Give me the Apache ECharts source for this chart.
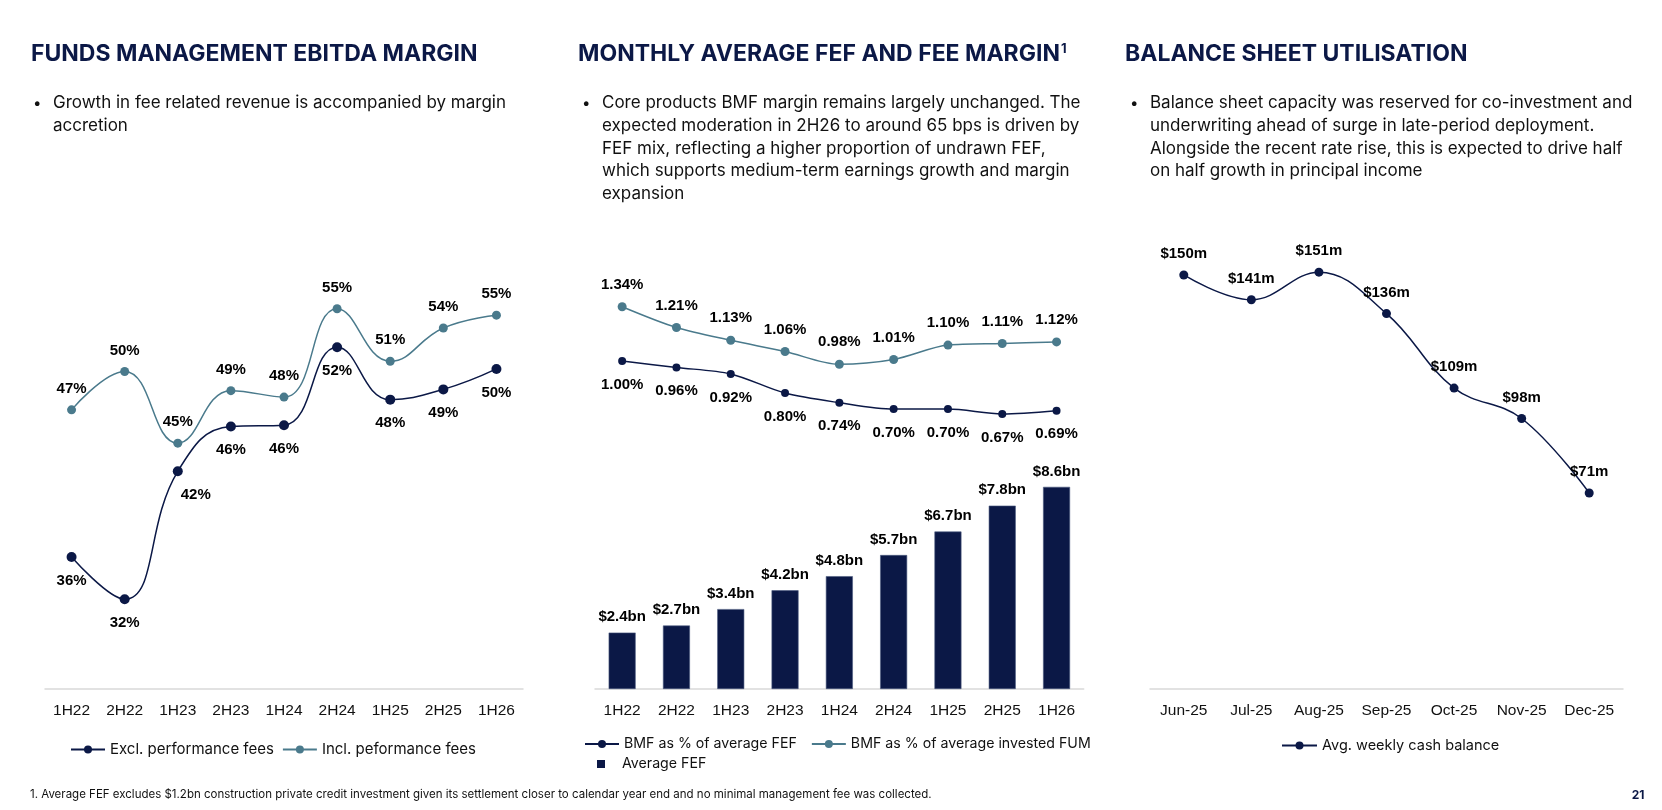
<!DOCTYPE html>
<html>
<head>
<meta charset="utf-8">
<script src="https://cdn.jsdelivr.net/npm/echarts@6/dist/echarts.min.js"></script>
<style>
  html, body { margin: 0; padding: 0; background: #fff; }
  #chart { width: 1662px; height: 810px; }
</style>
</head>
<body>
<div id="chart"></div>
<script>
// chart 1 - funds management EBITDA margin (%)
const halves = ['1H22', '2H22', '1H23', '2H23', '1H24', '2H24', '1H25', '2H25', '1H26']
const exclPerfFees = [35.7, 32.4, 42.4, 45.9, 46.0, 52.1, 48.0, 48.8, 50.4]
const inclPerfFees = [47.2, 50.2, 44.6, 48.7, 48.2, 55.1, 51.0, 53.6, 54.6]

// chart 2 - monthly average FEF ($bn) and fee margin (%)
const bmfFefMargin = [1.00, 0.96, 0.92, 0.80, 0.74, 0.70, 0.70, 0.67, 0.69]
const bmfFumMargin = [1.34, 1.21, 1.13, 1.06, 0.98, 1.01, 1.10, 1.11, 1.12]
const averageFef = [2.4, 2.7, 3.4, 4.2, 4.8, 5.7, 6.7, 7.8, 8.6]

// chart 3 - avg weekly cash balance ($m)
const months = ['Jun-25', 'Jul-25', 'Aug-25', 'Sep-25', 'Oct-25', 'Nov-25', 'Dec-25']
const cashBalance = [150, 141, 151, 136, 109, 98, 71]

const NAVY = '#0b1846'
const TEAL = '#4a7a8c'
const AXIS = '#d9d9d9'
const NUM_FONT = '"Liberation Sans", Arial, sans-serif'
const TEXT_FONT = 'Inter, Lato, sans-serif'

const chart = echarts.init(document.getElementById('chart'))

const dataLabel = (position, distance, formatter) => ({
  show: true,
  position,
  distance,
  formatter,
  color: '#000',
  fontFamily: NUM_FONT,
  fontWeight: 'bold',
  fontSize: 15
})

const catAxis = (gridIndex, data) => ({
  type: 'category',
  gridIndex,
  data,
  boundaryGap: true,
  axisLine: { lineStyle: { color: AXIS, width: 1.5 } },
  axisTick: { show: false },
  axisLabel: { interval: 0, margin: 14, color: '#111', fontFamily: NUM_FONT, fontSize: 15.5 }
})

const pct0 = p => Math.round(p.value) + '%'
const pct2 = p => p.value.toFixed(2) + '%'

const heading = (x, text) => ({
  type: 'text',
  x,
  y: 54,
  style: {
    text,
    rich: {
      t: { fill: NAVY, fontFamily: TEXT_FONT, fontWeight: 'bold', fontSize: 23 },
      s: { fill: NAVY, fontFamily: TEXT_FONT, fontWeight: 'bold', fontSize: 13, verticalAlign: 'top', padding: [0, 0, 10, 1] }
    },
    verticalAlign: 'middle'
  }
})

const bullet = (x, text) => [
  { type: 'text', x, y: 103, style: { text: '•', fill: '#111', font: '15px ' + TEXT_FONT, verticalAlign: 'middle' } },
  { type: 'text', x: x + 20, y: 91.5, style: { text, fill: '#111', font: '17px ' + TEXT_FONT, lineHeight: 22.8 } }
]

const legendText = size => ({ fontFamily: TEXT_FONT, fontSize: size, color: '#111' })

chart.setOption({
  animation: false,
  backgroundColor: '#fff',
  grid: [
    { left: 45, top: 249, width: 478, height: 440, outerBoundsMode: 'none' },
    { left: 595, top: 249, width: 488.7, height: 440, outerBoundsMode: 'none' },
    { left: 1150, top: 249, width: 473, height: 440, outerBoundsMode: 'none' }
  ],
  xAxis: [catAxis(0, halves), catAxis(1, halves), catAxis(2, months)],
  yAxis: [
    { type: 'value', gridIndex: 0, min: 25.39, max: 59.77, show: false },
    { type: 'value', gridIndex: 1, min: 0, max: 18.72, show: false },
    { type: 'value', gridIndex: 1, min: -1.0494, max: 1.7006, show: false },
    { type: 'value', gridIndex: 2, min: 0, max: 159.4, show: false }
  ],
  legend: [
    {
      data: ['Excl. performance fees', 'Incl. peformance fees'],
      left: 70, top: 742, padding: 0, itemWidth: 34, itemHeight: 10, itemGap: 8,
      textStyle: legendText(15)
    },
    {
      data: ['BMF as % of average FEF', 'BMF as % of average invested FUM'],
      left: 584, top: 737, padding: 0, itemWidth: 34, itemHeight: 10, itemGap: 14,
      textStyle: legendText(14.2)
    },
    {
      data: [{ name: 'Average FEF', icon: 'rect' }],
      left: 597, top: 757, padding: 0, itemWidth: 8, itemHeight: 8,
      itemStyle: { borderWidth: 0 },
      textStyle: Object.assign({ padding: [0, 0, 0, 12] }, legendText(14.2))
    },
    {
      data: ['Avg. weekly cash balance'],
      left: 1281, top: 738, padding: 0, itemWidth: 35, itemHeight: 10,
      textStyle: legendText(14.5)
    }
  ],
  series: [
    {
      name: 'Incl. peformance fees',
      type: 'line',
      xAxisIndex: 0, yAxisIndex: 0,
      data: inclPerfFees,
      smooth: 0.45,
      symbol: 'circle', symbolSize: 9,
      itemStyle: { color: TEAL },
      lineStyle: { color: TEAL, width: 1.5 },
      label: dataLabel('top', 9, pct0)
    },
    {
      name: 'Excl. performance fees',
      type: 'line',
      xAxisIndex: 0, yAxisIndex: 0,
      data: exclPerfFees.map((v, i) => i === 2 ? { value: v, label: { offset: [18, 0] } } : v),
      smooth: 0.45,
      symbol: 'circle', symbolSize: 10,
      itemStyle: { color: NAVY },
      lineStyle: { color: NAVY, width: 1.5 },
      label: dataLabel('bottom', 11, pct0)
    },
    {
      name: 'Average FEF',
      type: 'bar',
      xAxisIndex: 1, yAxisIndex: 1,
      data: averageFef,
      barWidth: 27,
      itemStyle: { color: NAVY, borderColor: '#4c5a80', borderWidth: 0.6 },
      label: dataLabel('top', 8, p => '$' + p.value.toFixed(1) + 'bn')
    },
    {
      name: 'BMF as % of average invested FUM',
      type: 'line',
      xAxisIndex: 1, yAxisIndex: 2,
      data: bmfFumMargin,
      smooth: 0.3,
      symbol: 'circle', symbolSize: 9,
      itemStyle: { color: TEAL },
      lineStyle: { color: TEAL, width: 1.5 },
      label: dataLabel('top', 10, pct2)
    },
    {
      name: 'BMF as % of average FEF',
      type: 'line',
      xAxisIndex: 1, yAxisIndex: 2,
      data: bmfFefMargin,
      smooth: 0.3,
      symbol: 'circle', symbolSize: 8,
      itemStyle: { color: NAVY },
      lineStyle: { color: NAVY, width: 1.5 },
      label: dataLabel('bottom', 12, pct2)
    },
    {
      name: 'Avg. weekly cash balance',
      type: 'line',
      xAxisIndex: 2, yAxisIndex: 3,
      data: cashBalance,
      smooth: 0.4,
      symbol: 'circle', symbolSize: 9,
      itemStyle: { color: NAVY },
      lineStyle: { color: NAVY, width: 1.5 },
      label: dataLabel('top', 9, p => '$' + p.value + 'm')
    }
  ],
  graphic: [
    heading(31, '{t|FUNDS MANAGEMENT EBITDA MARGIN}'),
    heading(578, '{t|MONTHLY AVERAGE FEF AND FEE MARGIN}{s|1}'),
    heading(1125, '{t|BALANCE SHEET UTILISATION}'),
    ...bullet(33, 'Growth in fee related revenue is accompanied by margin\naccretion'),
    ...bullet(582, 'Core products BMF margin remains largely unchanged. The\nexpected moderation in 2H26 to around 65 bps is driven by\nFEF mix, reflecting a higher proportion of undrawn FEF,\nwhich supports medium-term earnings growth and margin\nexpansion'),
    ...bullet(1130, 'Balance sheet capacity was reserved for co-investment and\nunderwriting ahead of surge in late-period deployment.\nAlongside the recent rate rise, this is expected to drive half\non half growth in principal income'),
    {
      type: 'text', x: 30, y: 795,
      style: {
        text: '1. Average FEF excludes $1.2bn construction private credit investment given its settlement closer to calendar year end and no minimal management fee was collected.',
        fill: '#111', font: '11.5px ' + TEXT_FONT, verticalAlign: 'middle'
      }
    },
    {
      type: 'text', x: 1638, y: 795,
      style: { text: '21', fill: NAVY, font: 'bold 12px ' + TEXT_FONT, align: 'center', verticalAlign: 'middle' }
    }
  ]
})
</script>
</body>
</html>
